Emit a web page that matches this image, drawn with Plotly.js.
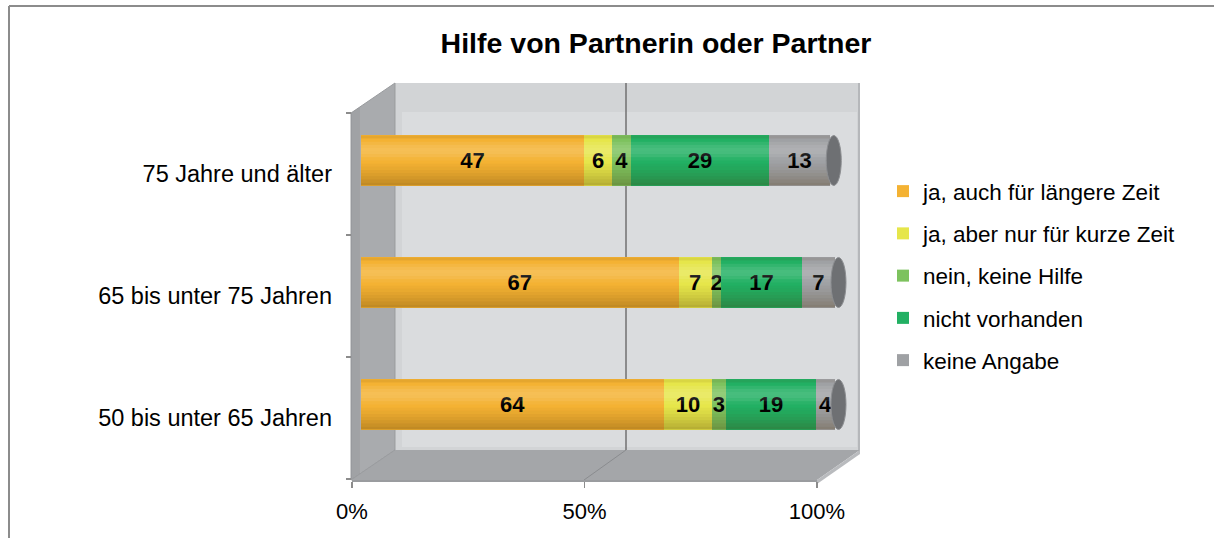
<!DOCTYPE html>
<html>
<head>
<meta charset="utf-8">
<script src="https://cdn.plot.ly/plotly-3.0.1.min.js"></script>
<style>
html,body{margin:0;padding:0;background:#fff;}
#chart{width:1214px;height:538px;}
</style>
</head>
<body>
<div id="chart"></div>
<script>
// ---- data ----
const categories = ['50 bis unter 65 Jahren', '65 bis unter 75 Jahren', '75 Jahre und älter'];
const seriesNames = ['ja, auch für längere Zeit', 'ja, aber nur für kurze Zeit', 'nein, keine Hilfe', 'nicht vorhanden', 'keine Angabe'];
const jaLaengereZeit = [64, 67, 47];
const jaKurzeZeit = [10, 7, 6];
const neinKeineHilfe = [3, 2, 4];
const nichtVorhanden = [19, 17, 29];
const keineAngabe = [4, 7, 13];
const tickValues = [0, 50, 100];
const tickLabels = ['0%', '50%', '100%'];
const seriesColors = ['#F4B233', '#E6E64A', '#7DC25E', '#22B063', '#9FA1A4'];

const seriesValues = [jaLaengereZeit, jaKurzeZeit, neinKeineHilfe, nichtVorhanden, keineAngabe];

// ---- helpers (figure pixel -> paper fraction) ----
const W = 1214, H = 538;
const px = x => x / W;
const py = y => 1 - y / H;
function poly(pts) {
  return pts.map((p, i) => (i ? 'L' : 'M') + px(p[0]).toFixed(5) + ',' + py(p[1]).toFixed(5)).join(' ') + ' Z';
}
const FONT = 'Liberation Sans, Arial, sans-serif';
const HALF = 0.205; // half bar thickness in category units
// bar axis: 0 at 361px, 100 at 835px; range extended a little so the end caps are not clipped
const X0PX = 361, X100PX = 835, XMAX = 104;
const XMAXPX = X0PX + (X100PX - X0PX) * XMAX / 100;

// ---- traces ----
const traces = seriesValues.map((vals, k) => ({
  type: 'bar',
  orientation: 'h',
  name: seriesNames[k],
  legendgroup: 'g' + k,
  x: vals,
  y: categories,
  xaxis: 'x',
  yaxis: 'y',
  width: HALF * 2,
  marker: { color: seriesColors[k], line: { width: 0 } },
  texttemplate: '<b>%{x}</b>',
  textposition: 'inside',
  insidetextanchor: 'middle',
  textangle: 0,
  constraintext: 'none',
  textfont: { family: FONT, size: 22, color: '#000' },
  hoverinfo: 'skip'
}));

// invisible trace to hold the front (labelled) axes
traces.push({
  type: 'scatter', mode: 'none',
  x: categories.map(() => 0), y: categories,
  xaxis: 'x2', yaxis: 'y2',
  showlegend: false, hoverinfo: 'skip'
});

// ---- 3D chart box decoration ----
const shapes = [];
const P = (o) => Object.assign({ xref: 'paper', yref: 'paper', layer: 'below' }, o);
// outer frame
shapes.push(P({ type: 'line', x0: px(9), x1: px(1214), y0: py(6), y1: py(6), line: { color: '#8C8C8C', width: 2 } }));
shapes.push(P({ type: 'line', x0: px(9), x1: px(9), y0: py(6), y1: py(538), line: { color: '#8C8C8C', width: 2 } }));
// back wall
shapes.push(P({ type: 'path', path: poly([[395, 83], [860, 83], [860, 450], [395, 450]]), fillcolor: '#D2D4D6', line: { width: 0 } }));
shapes.push(P({ type: 'path', path: poly([[402, 112], [857, 112], [857, 447], [402, 447]]), fillcolor: '#DADCDE', line: { width: 0 } }));
shapes.push(P({ type: 'line', x0: px(859), x1: px(859), y0: py(83), y1: py(452), line: { color: '#B5B7BA', width: 2 } }));
// left wall
shapes.push(P({ type: 'path', path: poly([[351, 113], [395, 83], [395, 450], [351, 480]]), fillcolor: '#A9ABAE', line: { color: '#9A9C9F', width: 1 } }));
shapes.push(P({ type: 'path', path: poly([[351, 113], [360, 107], [360, 474], [351, 480]]), fillcolor: 'rgba(0,0,0,0.05)', line: { width: 0 } }));
// floor
shapes.push(P({ type: 'path', path: poly([[351, 480], [395, 450], [860, 450], [817, 480]]), fillcolor: '#A4A6A9', line: { width: 0 } }));
shapes.push(P({ type: 'path', path: poly([[817, 480], [860, 450], [860, 454], [817, 484]]), fillcolor: '#B9BBBE', line: { width: 0 } }));
// back wall grid line (50 %) and its floor continuation
shapes.push(P({ type: 'line', x0: px(626), x1: px(626), y0: py(83), y1: py(450), line: { color: '#707070', width: 1.5 } }));
shapes.push(P({ type: 'line', x0: px(626), x1: px(584), y0: py(450), y1: py(480), line: { color: '#8A8C8F', width: 1 } }));
shapes.push(P({ type: 'line', x0: px(395), x1: px(351), y0: py(450), y1: py(480), line: { color: '#9A9C9F', width: 1 } }));

// cylinder shading (soft gradient bands) and end caps, positioned from the data totals
const NB = 16;
function shade(t) { // t: 0 bottom .. 1 top
  if (t < 0.5) return -0.32 * Math.pow(1 - t / 0.5, 1.4);
  if (t < 0.9) return 0.17 * Math.sin(Math.PI * (t - 0.5) / 0.4);
  return -0.12 * (t - 0.9) / 0.1;
}
categories.forEach((c, i) => {
  const total = seriesValues.reduce((s, arr) => s + arr[i], 0);
  for (let b = 0; b < NB; b++) {
    const t = (b + 0.5) / NB;
    const s = shade(t);
    if (Math.abs(s) < 0.01) continue;
    shapes.push({
      type: 'rect', xref: 'x', yref: 'y', layer: 'above',
      x0: 0, x1: total,
      y0: i - HALF + (2 * HALF) * b / NB, y1: i - HALF + (2 * HALF) * (b + 1) / NB,
      fillcolor: s < 0 ? 'rgba(70,40,0,' + (-s).toFixed(3) + ')' : 'rgba(255,255,255,' + s.toFixed(3) + ')',
      line: { width: 0 }
    });
  }
  shapes.push({ type: 'circle', xref: 'x', yref: 'y', layer: 'above', xsizemode: 'pixel', xanchor: total, x0: -4, x1: 11, y0: i - HALF, y1: i + HALF, fillcolor: '#6E7073', line: { color: '#8C8E91', width: 1 } });
});

const layout = {
  width: W, height: H,
  margin: { l: 0, r: 0, t: 0, b: 0, pad: 0 },
  paper_bgcolor: '#ffffff',
  plot_bgcolor: 'rgba(0,0,0,0)',
  font: { family: FONT, size: 22, color: '#000' },
  title: {
    text: '<b>Hilfe von Partnerin oder Partner</b>',
    font: { family: FONT, size: 28.5, color: '#000' },
    x: px(656), xanchor: 'center', xref: 'paper',
    y: py(43), yanchor: 'middle', yref: 'paper'
  },
  barmode: 'stack',
  bargap: 0,
  showlegend: true,
  legend: {
    x: px(883), xanchor: 'left', y: py(170), yanchor: 'top',
    traceorder: 'grouped', tracegroupgap: 10,
    font: { family: FONT, size: 22.5, color: '#000' },
    bgcolor: 'rgba(0,0,0,0)', borderwidth: 0
  },
  xaxis: {
    domain: [px(X0PX), px(XMAXPX)], range: [0, XMAX], anchor: 'y',
    visible: false, fixedrange: true
  },
  yaxis: {
    domain: [py(465.5), py(99.5)], type: 'category', categoryorder: 'array', categoryarray: categories,
    range: [-0.5, 2.5], anchor: 'x', visible: false, fixedrange: true
  },
  xaxis2: {
    domain: [px(352), px(817)], range: [0, 100], anchor: 'free', position: py(481),
    tickmode: 'array', tickvals: tickValues, ticktext: tickLabels,
    ticks: 'outside', ticklen: 6, tickcolor: '#8C8C8C', tickwidth: 1.5,
    showline: true, linecolor: '#9A9C9F', linewidth: 2, ticklabelstandoff: 5,
    showgrid: false, zeroline: false, tickfont: { family: FONT, size: 22, color: '#000' },
    fixedrange: true
  },
  yaxis2: {
    domain: [py(479), py(113)], type: 'category', categoryorder: 'array', categoryarray: categories,
    range: [-0.5, 2.5], anchor: 'free', position: px(351),
    ticks: 'outside', tickson: 'boundaries', ticklen: 5, tickcolor: '#8C8C8C', tickwidth: 1.5,
    showline: false, showgrid: false, zeroline: false, ticklabelstandoff: 19,
    tickfont: { family: FONT, size: 23.5, color: '#000' }, fixedrange: true
  },
  shapes: shapes
};

Plotly.newPlot('chart', traces, layout, { displayModeBar: false, staticPlot: true });
</script>
</body>
</html>
